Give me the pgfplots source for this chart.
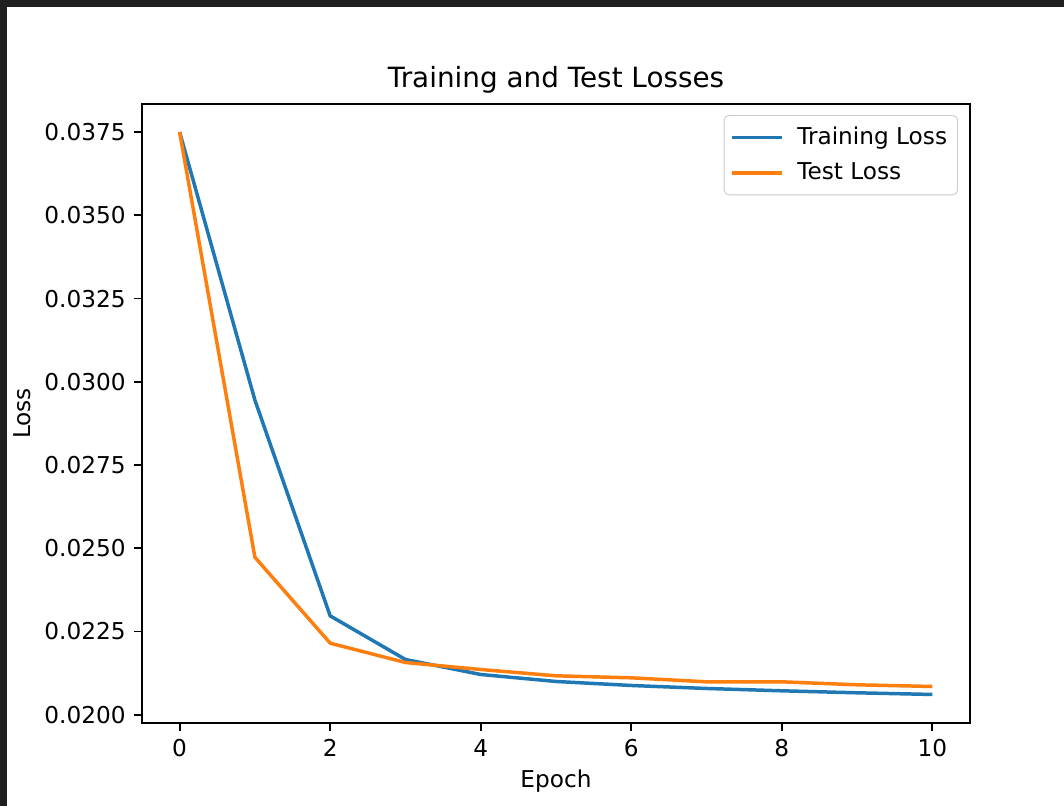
\documentclass[border=0pt]{standalone}
\usepackage{fontspec}
\setmainfont{DejaVu Sans}
\usepackage{pgfplots}
\pgfplotsset{compat=1.18}
\definecolor{mplblue}{HTML}{1F77B4}
\definecolor{mplorange}{HTML}{FF7F0E}
\definecolor{darkstrip}{HTML}{202020}
\begin{document}
\begin{tikzpicture}
\fill[darkstrip] (-61.2pt,-35.8pt) rectangle (397.4pt,311.6pt);
\fill[white] (-58.2pt,-35.8pt) rectangle (397.4pt,308.6pt);
\begin{axis}[
  scale only axis,
  width=356.9pt, height=266.8pt,
  xmin=-0.5, xmax=10.5,
  ymin=0.019755, ymax=0.038345,
  xtick={0,2,4,6,8,10},
  ytick={0.0200,0.0225,0.0250,0.0275,0.0300,0.0325,0.0350,0.0375},
  scaled y ticks=false,
  yticklabel style={/pgf/number format/.cd, fixed, fixed zerofill, precision=4},
  /pgf/number format/assume math mode=true,
  tick align=outside,
  tick pos=left,
  major tick length=3.5pt,
  every tick/.style={line width=0.8pt, black},
  axis line style={line width=0.8pt},
  ticklabel style={font=\fontsize{10}{12}\selectfont},
  title={Training and Test Losses},
  title style={font=\fontsize{12}{14}\selectfont, at={(axis description cs:0.5,1.016)}, anchor=center},
  xlabel={Epoch},
  xlabel style={font=\fontsize{10}{12}\selectfont, at={(axis description cs:0.5,-0.0937)}, anchor=center},
  ylabel={Loss},
  ylabel style={font=\fontsize{10}{12}\selectfont, at={(axis description cs:-0.1449,0.5)}, anchor=center, rotate=0},
  legend style={at={(1,1)}, anchor=north east, xshift=-5.2pt, yshift=-4.8pt,
    draw=black!20, rounded corners=2pt, font=\fontsize{10}{12}\selectfont,
    inner xsep=2.5pt, inner ysep=3pt, row sep=2.3pt, column sep=4pt},
  legend cell align=left,
  legend image code/.code={\draw[#1] (0pt,0pt) -- (21.5pt,0pt);},
]
\addplot[mplblue, line width=1.5pt] coordinates {
(0,0.03750) (1,0.02945) (2,0.02297) (3,0.02166) (4,0.02121) (5,0.02100)
(6,0.02088) (7,0.02079) (8,0.02072) (9,0.02066) (10,0.02061)};
\addlegendentry{Training Loss}
\addplot[mplorange, line width=1.5pt] coordinates {
(0,0.03750) (1,0.02473) (2,0.02215) (3,0.02157) (4,0.02136) (5,0.02117)
(6,0.02111) (7,0.02099) (8,0.02099) (9,0.02090) (10,0.02085)};
\addlegendentry{Test Loss}
\end{axis}
\end{tikzpicture}
\end{document}
